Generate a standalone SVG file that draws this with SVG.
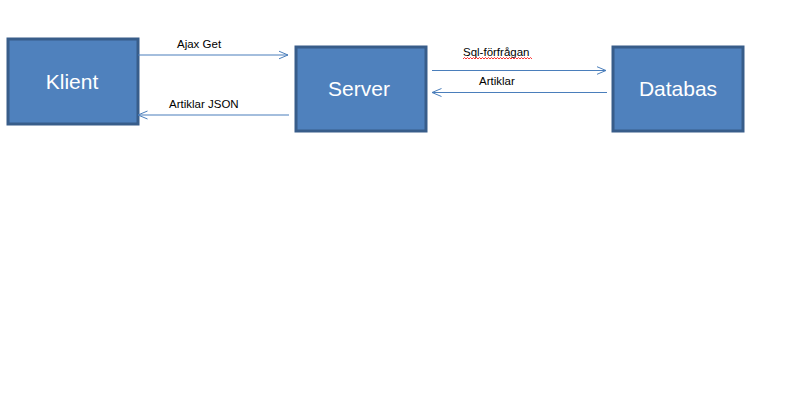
<svg xmlns="http://www.w3.org/2000/svg" width="812" height="417" viewBox="0 0 812 417">
<defs>
<marker id="open" viewBox="0 0 10 10" refX="9.5" refY="5" markerWidth="10" markerHeight="10" markerUnits="userSpaceOnUse" orient="auto">
<path d="M0,1 L9.5,5 L0,9" fill="none" stroke="#4a7ebb" stroke-width="1"/>
</marker>
</defs>
<style>
.box{fill:#4f81bd;stroke:#385d8a;stroke-width:3}
.bt{font-family:"Liberation Sans",Arial,sans-serif;font-size:21px;fill:#ffffff;text-anchor:middle}
.lbl{font-family:"Liberation Sans",Arial,sans-serif;font-size:11.5px;fill:#000000}
.ln{stroke:#4a7ebb;stroke-width:1.2;fill:none;marker-end:url(#open)}
</style>
<rect width="812" height="417" fill="#ffffff"/>
<g id="klient">
<rect class="box" x="8" y="39" width="130" height="85"/>
<text class="bt" x="72" y="89">Klient</text>
</g>
<g id="server">
<rect class="box" x="296" y="47" width="130" height="84"/>
<text class="bt" x="359" y="96">Server</text>
</g>
<g id="databas">
<rect class="box" x="613" y="47" width="130" height="84"/>
<text class="bt" x="678" y="96">Databas</text>
</g>
<g id="connectors">
<line class="ln" x1="138" y1="55" x2="288" y2="55"/>
<line class="ln" x1="289" y1="115" x2="138" y2="115"/>
<line class="ln" x1="432" y1="70.5" x2="606" y2="70.5"/>
<line class="ln" x1="607" y1="92.5" x2="432" y2="92.5"/>
<text class="lbl" x="177" y="48">Ajax Get</text>
<text class="lbl" x="169" y="108">Artiklar JSON</text>
<text class="lbl" x="463" y="56">Sql-förfrågan</text>
<text class="lbl" x="479" y="85">Artiklar</text>
<path d="M463,59 l1.5,-1.5 l1.5,1.5 l1.5,-1.5 l1.5,1.5 l1.5,-1.5 l1.5,1.5 l1.5,-1.5 l1.5,1.5 l1.5,-1.5 l1.5,1.5 l1.5,-1.5 l1.5,1.5 l1.5,-1.5 l1.5,1.5 l1.5,-1.5 l1.5,1.5 l1.5,-1.5 l1.5,1.5 l1.5,-1.5 l1.5,1.5 l1.5,-1.5 l1.5,1.5 l1.5,-1.5 l1.5,1.5 l1.5,-1.5 l1.5,1.5 l1.5,-1.5 l1.5,1.5 l1.5,-1.5 l1.5,1.5 l1.5,-1.5 l1.5,1.5 l1.5,-1.5 l1.5,1.5 l1.5,-1.5 l1.5,1.5 l1.5,-1.5 l1.5,1.5 l1.5,-1.5 l1.5,1.5 l1.5,-1.5 l1.5,1.5 l1.5,-1.5 l1.5,1.5 l1.5,-1.5 l1.5,1.5" fill="none" stroke="#ff0000" stroke-width="0.8"/>
</g>
</svg>
